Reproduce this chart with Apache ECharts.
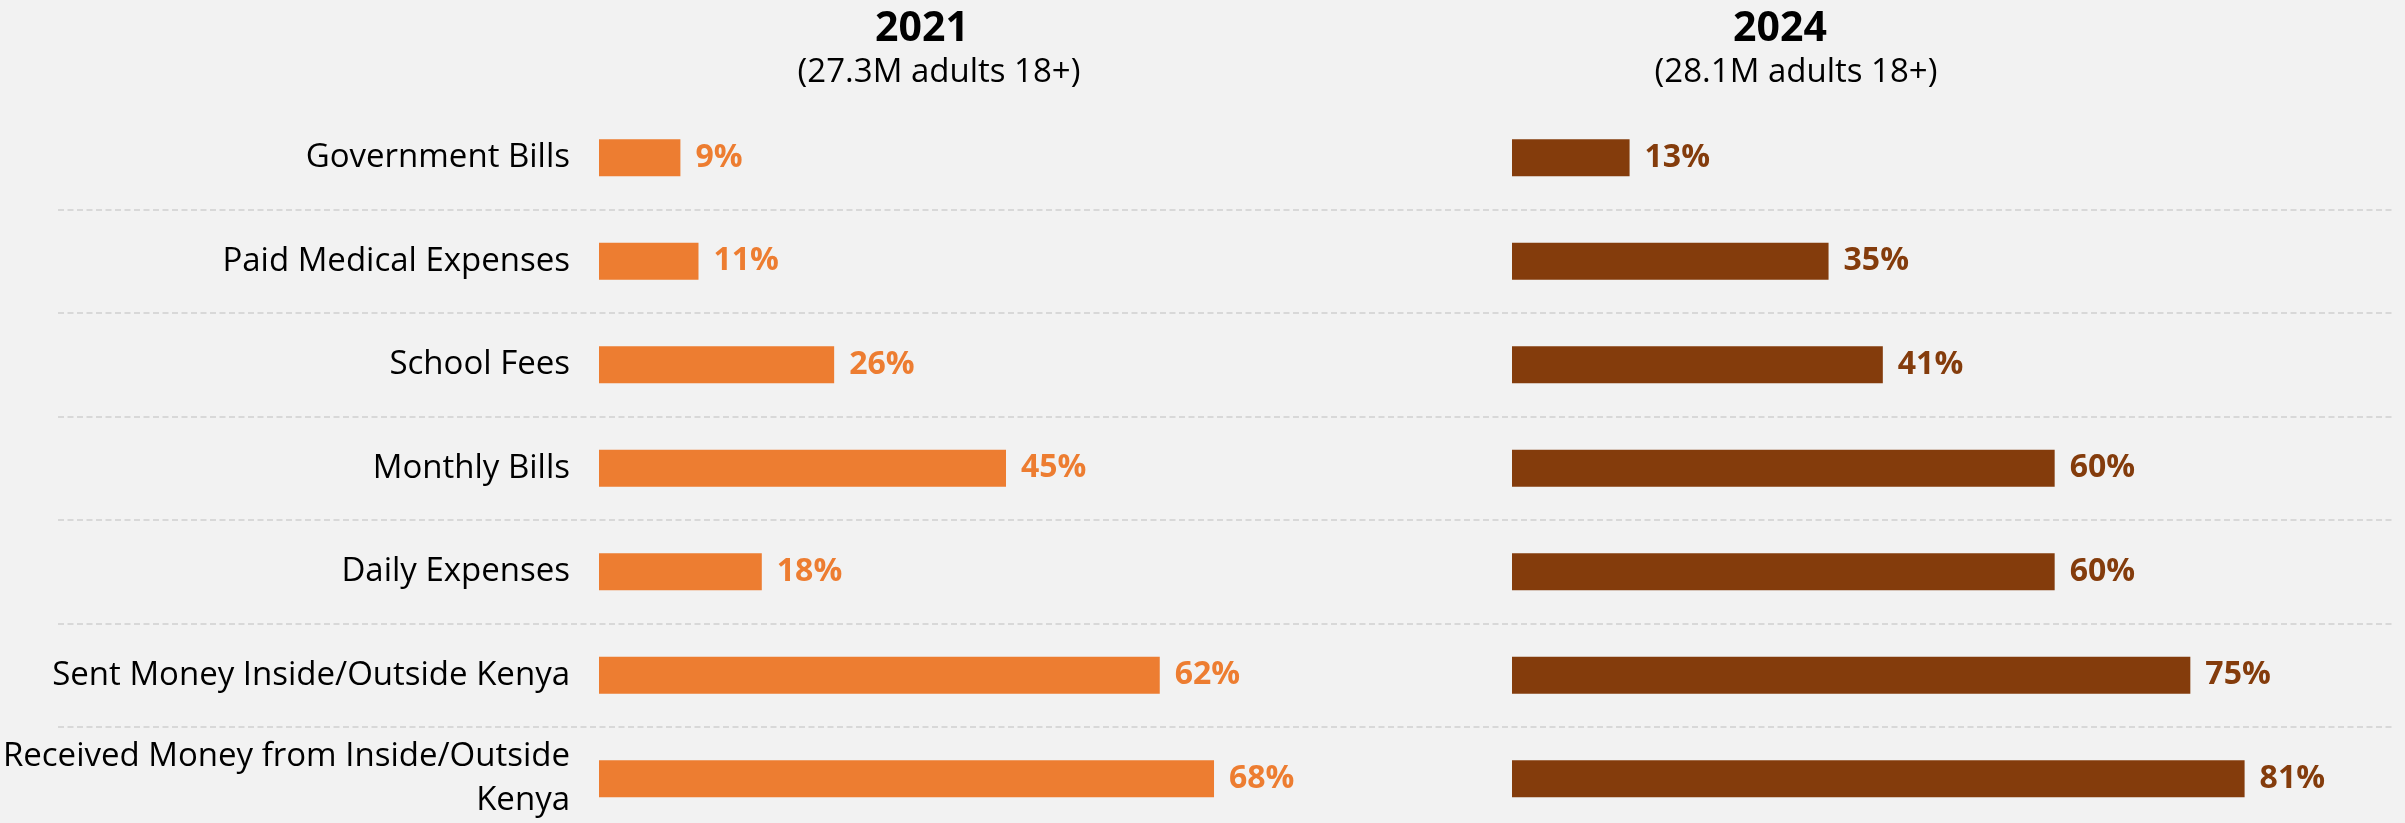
<!DOCTYPE html>
<html>
<head>
<meta charset="utf-8">
<script src="https://cdn.jsdelivr.net/npm/echarts@6/dist/echarts.min.js"></script>
<style>
html,body{margin:0;padding:0;background:#F2F2F2;}
#chart{width:2405px;height:823px;}
</style>
</head>
<body>
<div id="chart"></div>
<script>
const categories = [
  "Government Bills",
  "Paid Medical Expenses",
  "School Fees",
  "Monthly Bills",
  "Daily Expenses",
  "Sent Money Inside/Outside Kenya",
  "Received Money from Inside/Outside Kenya"
];
const values2021 = [9, 11, 26, 45, 18, 62, 68];
const values2024 = [13, 35, 41, 60, 60, 75, 81];
const panelTitles = ["2021", "2024"];
const panelSubtitles = ["(27.3M adults 18+)", "(28.1M adults 18+)"];

const FONT = "'Open Sans', 'Noto Sans', sans-serif";
const ORANGE = "#ED7D31";
const BROWN = "#843C0C";
const TOP = 106, H = 724.5;

const chart = echarts.init(document.getElementById('chart'), null, {renderer: 'canvas'});

function barSeries(idx, data, color) {
  return {
    type: 'bar',
    xAxisIndex: idx,
    yAxisIndex: idx,
    data: data,
    barWidth: 37,
    itemStyle: {color: color},
    label: {
      show: true,
      position: 'right',
      distance: 15,
      formatter: '{c}%',
      color: color,
      fontFamily: FONT,
      fontWeight: 'bold',
      fontSize: 32
    },
    silent: true,
    animation: false
  };
}

// wrap long labels: move the last word onto a second line
function wrapLabel(v) {
  return v.length > 34 ? v.replace(/ (\S+)$/, '\n$1') : v;
}

const gridBase = {top: TOP, height: H, containLabel: false, outerBoundsMode: 'none'};

const option = {
  backgroundColor: '#F2F2F2',
  animation: false,
  title: [
    {text: panelTitles[0], left: 917, top: 4, textAlign: 'center',
     textStyle: {fontFamily: FONT, fontWeight: 'bold', fontSize: 41, color: '#000'}},
    {text: panelSubtitles[0], left: 934, top: 51, textAlign: 'center',
     textStyle: {fontFamily: FONT, fontWeight: 'normal', fontSize: 33, color: '#000'}},
    {text: panelTitles[1], left: 1775, top: 4, textAlign: 'center',
     textStyle: {fontFamily: FONT, fontWeight: 'bold', fontSize: 41, color: '#000'}},
    {text: panelSubtitles[1], left: 1791, top: 51, textAlign: 'center',
     textStyle: {fontFamily: FONT, fontWeight: 'normal', fontSize: 33, color: '#000'}}
  ],
  grid: [
    Object.assign({left: 58, width: 2337}, gridBase),
    Object.assign({left: 599, width: 814}, gridBase),
    Object.assign({left: 1512, width: 814}, gridBase)
  ],
  xAxis: [
    {type: 'value', gridIndex: 0, min: 0, max: 100, show: false},
    {type: 'value', gridIndex: 1, min: 0, max: 90, show: false},
    {type: 'value', gridIndex: 2, min: 0, max: 90, show: false}
  ],
  yAxis: [
    {
      type: 'category', gridIndex: 0, data: categories, inverse: true,
      axisLine: {show: false}, axisTick: {show: false}, axisLabel: {show: false},
      splitLine: {show: true, showMinLine: false, showMaxLine: false,
        lineStyle: {color: '#D0D0D0', width: 1.5, type: [6, 3.5]}}
    },
    {
      type: 'category', gridIndex: 1, data: categories, inverse: true,
      axisLine: {show: false}, axisTick: {show: false},
      splitLine: {show: false},
      axisLabel: {
        show: true, margin: 29, color: '#000', fontFamily: FONT, fontSize: 33,
        lineHeight: 44, align: 'right', formatter: wrapLabel
      }
    },
    {
      type: 'category', gridIndex: 2, data: categories, inverse: true,
      axisLine: {show: false}, axisTick: {show: false}, axisLabel: {show: false},
      splitLine: {show: false}
    }
  ],
  series: [
    barSeries(1, values2021, ORANGE),
    barSeries(2, values2024, BROWN)
  ]
};
chart.setOption(option);
</script>
</body>
</html>
